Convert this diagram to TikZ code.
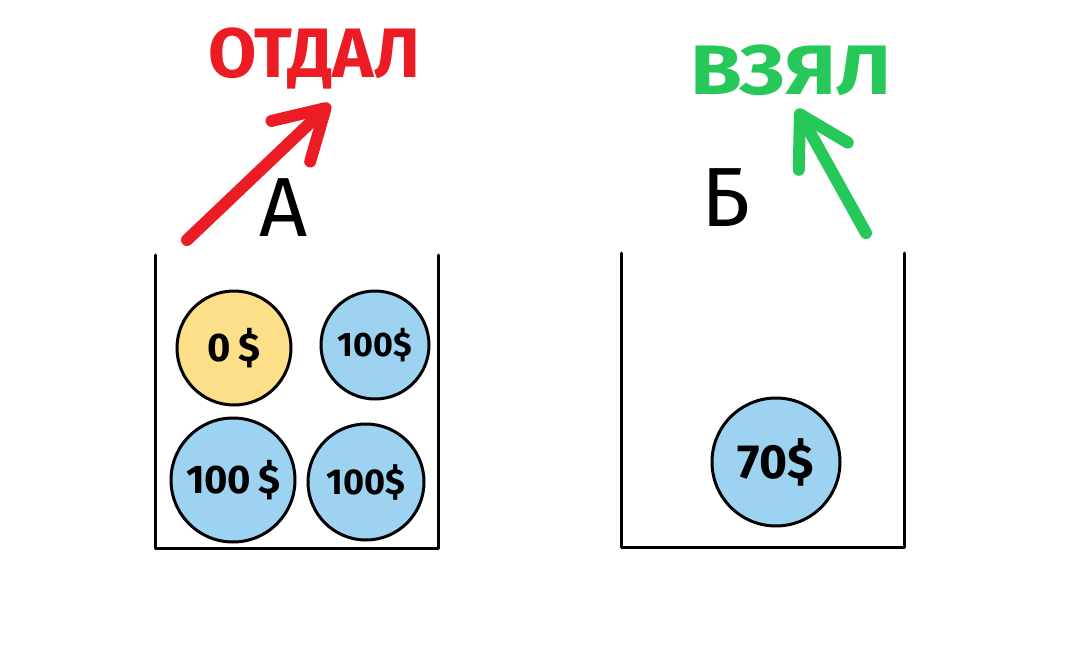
\documentclass[tikz,border=0pt]{standalone}
\usepackage{fontspec}
\setmainfont{Fira Sans}
\usetikzlibrary{arrows.meta}
\definecolor{redpen}{RGB}{236,28,36}
\definecolor{greenpen}{RGB}{38,200,90}
\definecolor{coinblue}{RGB}{157,211,240}
\definecolor{coinyellow}{RGB}{253,223,138}
\begin{document}
\begin{tikzpicture}[x=1pt,y=-1pt,
  box/.style={line width=3pt,line cap=round,line join=round},
  coin/.style={circle,draw=black,line width=3pt,inner sep=0pt},
  bluecoin/.style={coin,fill=coinblue},
  yellowcoin/.style={coin,fill=coinyellow},
  cointext/.style={font=\fontsize{40}{40}\selectfont\bfseries},
  letter/.style={font=\fontsize{84}{84}\selectfont},
  word/.style={font=\fontsize{70}{70}\selectfont\bfseries},
  pen/.style={line width=12pt,line cap=round,line join=round,
    -{Straight Barb[length=48pt,width=56pt,line cap=round,line join=round]}}]
\useasboundingbox[fill=white] (0,0) rectangle (1080,648);
% containers
\draw[box] (155,255) -- (155,548) -- (438,548) -- (438,255);
\draw[box] (621,253) -- (621,547) -- (904,547) -- (904,253);
% coins
\node[yellowcoin,minimum size=114pt] (c0) at (234,348) {};
\node[cointext] at (c0) {0\,\$};
\node[bluecoin,minimum size=108pt] (c1) at (375,345) {};
\node[cointext,font=\fontsize{34}{34}\selectfont\bfseries] at (c1) {100\$};
\node[bluecoin,minimum size=124pt] (c2) at (233,480) {};
\node[cointext] at (c2) {100\,\$};
\node[bluecoin,minimum size=116pt] (c3) at (366,482) {};
\node[cointext,font=\fontsize{36}{36}\selectfont\bfseries] at (c3) {100\$};
\node[bluecoin,minimum size=128pt] (c4) at (776,462) {};
\node[cointext,font=\fontsize{48}{48}\selectfont\bfseries] at (c4) {70\$};
% letters
\node[letter] (la) at (284,208) {А};
\node[letter] (lb) at (726,198) {Б};
% words
\node[word,text=redpen] (gave) at (314,58) {ОТДАЛ};
\node[word,text=greenpen,xscale=1.2] (took) at (791,70) {ВЗЯЛ};
% arrows
\coordinate (ra) at (187,240);
\coordinate (rb) at (330,104);
\draw[pen,draw=redpen] (ra) -- (rb);
\coordinate (ga) at (866,233);
\coordinate (gb) at (797,109);
\draw[pen,draw=greenpen] (ga) -- (gb);
\end{tikzpicture}
\end{document}
